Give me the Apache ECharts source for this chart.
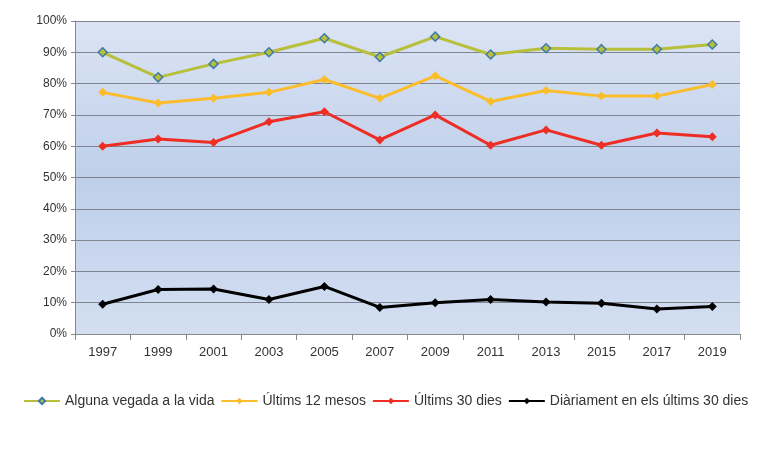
<!DOCTYPE html>
<html>
<head>
<meta charset="utf-8">
<script src="https://cdn.jsdelivr.net/npm/echarts@6/dist/echarts.min.js"></script>
<style>html,body{margin:0;padding:0;background:#fff}#chart{width:767px;height:457px}</style>
</head>
<body>
<div id="chart"></div>
<script>
var years = ['1997', '1999', '2001', '2003', '2005', '2007', '2009', '2011', '2013', '2015', '2017', '2019'];
var alguna = [90, 82, 86.3, 90, 94.5, 88.5, 95, 89.3, 91.3, 91, 91, 92.5];
var ultims12 = [77.2, 73.8, 75.3, 77.2, 81.3, 75.3, 82.5, 74.3, 77.8, 76, 76, 79.7];
var ultims30 = [60, 62.3, 61.2, 67.8, 71, 62, 70, 60.3, 65.2, 60.3, 64.2, 63];
var diari = [9.5, 14.2, 14.4, 11, 15.2, 8.5, 10, 11, 10.2, 9.8, 8, 8.8];

function serie(name, data, color, border) {
    return {
        name: name,
        type: 'line',
        data: data,
        symbol: 'diamond',
        symbolSize: 9,
        lineStyle: { color: color, width: 3 },
        itemStyle: { color: color, borderColor: border || color, borderWidth: border ? 1.5 : 0 }
    };
}

var chart = echarts.init(document.getElementById('chart'), null, { renderer: 'canvas' });
chart.setOption({
    animation: false,
    textStyle: { fontFamily: 'Liberation Sans, Arial, sans-serif' },
    grid: {
        left: 75, right: 27, top: 21, bottom: 123,
        show: true,
        borderWidth: 0,
        backgroundColor: new echarts.graphic.LinearGradient(0, 0, 0, 1, [
            { offset: 0, color: '#dbe4f4' },
            { offset: 0.5, color: '#bfcfea' },
            { offset: 1, color: '#d3def1' }
        ])
    },
    legend: {
        left: 18, top: 389,
        itemWidth: 36, itemHeight: 8, itemGap: 6,
        textStyle: { color: '#333', fontSize: 14 },
        data: ['Alguna vegada a la vida', 'Últims 12 mesos', 'Últims 30 dies', 'Diàriament en els últims 30 dies']
    },
    xAxis: {
        type: 'category',
        data: years,
        boundaryGap: true,
        axisLine: { lineStyle: { color: '#888' } },
        axisTick: { show: true, length: 6, lineStyle: { color: '#888' } },
        axisLabel: { color: '#333', fontSize: 13, margin: 12 }
    },
    yAxis: {
        type: 'value',
        min: 0, max: 100, interval: 10,
        axisLine: { show: true, lineStyle: { color: '#888' } },
        axisTick: { show: true, length: 4, lineStyle: { color: '#888' } },
        axisLabel: { color: '#333', fontSize: 12, formatter: '{value}%' },
        splitLine: { lineStyle: { color: '#7f8590', width: 1.2 } }
    },
    series: [
        serie('Alguna vegada a la vida', alguna, '#b8bf3a', '#3f7ba8'),
        serie('Últims 12 mesos', ultims12, '#fbbd2c'),
        serie('Últims 30 dies', ultims30, '#ee2d24'),
        serie('Diàriament en els últims 30 dies', diari, '#000000')
    ]
});
</script>
</body>
</html>
